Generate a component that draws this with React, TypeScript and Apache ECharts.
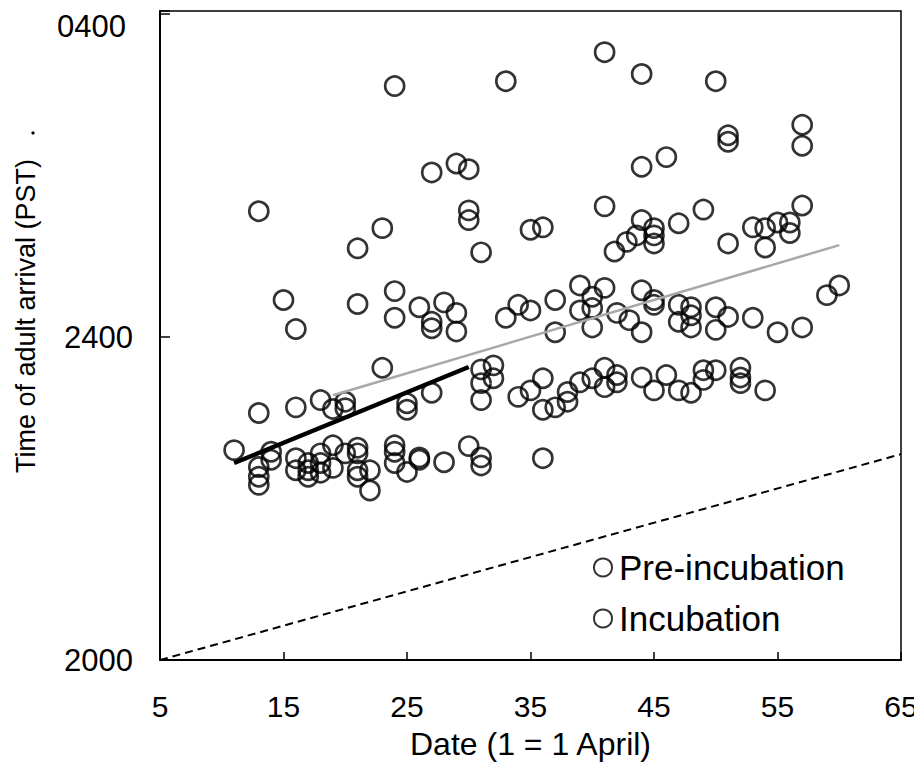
import React, { useEffect, useRef } from "react";
import * as echarts from "echarts";

const xTickStart = 5;
const xTickEnd = 65;
const xTickStep = 10;

const yTickValues = [20, 24, 28];
const yTickLabels = ["2000", "2400", "0400"];

const xAxisTitle = "Date (1 = 1 April)";
const yAxisTitle = "Time of adult arrival (PST)";
const seriesNames = ["Pre-incubation", "Incubation"];

// [date, time in hours after midnight of the previous day]
const preIncubation: [number, number][] = [
  [24, 27.11], [27, 26.04], [29, 26.15], [30, 26.08], [30, 25.57], [30, 25.45],
  [13, 25.56], [23, 25.35], [21, 25.1], [15, 24.46], [16, 24.1], [21, 24.41],
  [24, 24.57], [24, 24.24], [26, 24.37], [28, 24.43], [29, 24.3], [27, 24.19],
  [27, 24.11], [29, 24.07], [23, 23.62], [13, 23.06], [16, 23.13], [18, 23.22],
  [19, 23.11], [20, 23.2], [20, 23.12], [25, 23.18], [25, 23.1], [27, 23.31],
  [11, 22.6], [14, 22.58], [14, 22.48], [13, 22.39], [13, 22.27], [13, 22.17],
  [16, 22.5], [16, 22.35], [17, 22.44], [17, 22.35], [17, 22.27], [18, 22.56],
  [18, 22.44], [18, 22.32], [19, 22.66], [19, 22.38], [20, 22.56], [21, 22.63],
  [21, 22.56], [21, 22.35], [21, 22.27], [22, 22.35], [22, 22.1], [24, 22.66],
  [24, 22.58], [24, 22.44], [25, 22.33], [26, 22.51], [26, 22.48], [28, 22.45],
  [30, 22.65],
];

const incubation: [number, number][] = [
  [33, 27.17], [41, 27.53], [44, 27.26], [50, 27.17], [51, 26.5], [51, 26.42],
  [57, 26.63], [57, 26.37], [46, 26.23], [44, 26.11], [41, 25.62], [57, 25.63],
  [49, 25.58], [36, 25.36], [35, 25.33], [44, 25.45], [45, 25.35], [47, 25.41],
  [53, 25.36], [54, 25.35], [55, 25.42], [56, 25.42], [45, 25.26], [45, 25.16],
  [43.6, 25.26], [42.8, 25.18], [41.8, 25.06], [51, 25.16], [56, 25.29], [54, 25.11],
  [60, 24.64], [59, 24.52], [39, 24.64], [41, 24.61], [40, 24.5], [39, 24.33],
  [40, 24.36], [40, 24.12], [37, 24.46], [34, 24.4], [35, 24.33], [33, 24.24],
  [37, 24.06], [42, 24.3], [43, 24.21], [44, 24.06], [44, 24.58], [45, 24.46],
  [45, 24.4], [47, 24.4], [48, 24.37], [48, 24.27], [47, 24.19], [48, 24.12],
  [50, 24.37], [51, 24.25], [50, 24.09], [53, 24.24], [55, 24.06], [57, 24.12],
  [31, 25.05], [31, 23.6], [32, 23.65], [32, 23.49], [31, 23.43], [31, 23.22],
  [31, 22.51], [31, 22.41], [34, 23.26], [35, 23.34], [36, 23.49], [36, 23.1],
  [37, 23.13], [38, 23.32], [38, 23.2], [39, 23.44], [40, 23.49], [41, 23.62],
  [41, 23.38], [42, 23.53], [42, 23.44], [44, 23.5], [45, 23.34], [46, 23.53],
  [47, 23.34], [48, 23.31], [49, 23.47], [50, 23.59], [49, 23.59], [52, 23.62],
  [52, 23.5], [52, 23.43], [54, 23.34], [36, 22.5],
];

const preIncubationFit: [number, number][] = [[11, 22.44], [30, 23.63]];
const incubationFit: [number, number][] = [[19, 23.28], [60, 25.14]];
const referenceLine: [number, number][] = [[5, 20], [65, 22.55]];

const FONT = "'Liberation Sans', Arial, sans-serif";

export default function App() {
  const ref = useRef<HTMLDivElement>(null);

  useEffect(() => {
    if (!ref.current) return;
    const chart = echarts.init(ref.current, undefined, { renderer: "svg" });
    const symbolStyle = {
      color: "rgba(0,0,0,0)",
      borderColor: "#000",
      borderWidth: 2.7,
    };
    chart.setOption({
      animation: false,
      backgroundColor: "#fff",
      textStyle: { fontFamily: FONT, color: "#000" },
      grid: {
        left: 160,
        right: 21,
        top: 11,
        bottom: 117,
        outerBoundsMode: "none",
        containLabel: false,
        show: true,
        borderColor: "#000",
        borderWidth: 1.5,
        backgroundColor: "rgba(0,0,0,0)",
      },
      legend: {
        orient: "vertical",
        left: 588,
        top: 545,
        itemWidth: 18,
        itemHeight: 18,
        itemGap: 16,
        icon: "circle",
        data: seriesNames,
        itemStyle: { color: "rgba(0,0,0,0)", borderColor: "#000", borderWidth: 2 },
        textStyle: { fontSize: 35, fontFamily: FONT, color: "#000", padding: [0, 0, 0, 2] },
      },
      xAxis: {
        type: "value",
        min: xTickStart,
        max: xTickEnd,
        interval: xTickStep,
        name: xAxisTitle,
        nameLocation: "middle",
        nameGap: 68,
        nameTextStyle: { fontSize: 32, fontFamily: FONT, color: "#000" },
        axisLine: { lineStyle: { color: "#000", width: 2 } },
        axisTick: { inside: true, length: 8, lineStyle: { color: "#000", width: 1.5 } },
        axisLabel: { fontSize: 30, fontFamily: FONT, color: "#000", margin: 31 },
        splitLine: { show: false },
      },
      yAxis: {
        type: "value",
        min: 20,
        max: 28.04,
        interval: 4,
        axisLine: { lineStyle: { color: "#000", width: 2 } },
        axisTick: { inside: true, length: 10, lineStyle: { color: "#000", width: 1.5 } },
        axisLabel: {
          fontSize: 31,
          fontFamily: FONT,
          color: "#000",
          margin: 27,
          formatter: (v: number) => {
            const i = yTickValues.indexOf(v);
            if (i < 0) return "";
            return i === yTickValues.length - 1 ? "{top|" + yTickLabels[i] + "}" : yTickLabels[i];
          },
          rich: {
            top: { fontSize: 31, fontFamily: FONT, color: "#000", padding: [24, 7, 0, 0] },
          },
        },
        splitLine: { show: false },
      },
      series: [
        {
          type: "line",
          data: referenceLine,
          symbol: "none",
          silent: true,
          lineStyle: { color: "#000", width: 2, type: [8, 5] },
          z: 1,
        },
        {
          name: seriesNames[0],
          type: "scatter",
          data: preIncubation,
          symbol: "circle",
          symbolSize: 19,
          itemStyle: symbolStyle,
          z: 3,
        },
        {
          name: seriesNames[1],
          type: "scatter",
          data: incubation,
          symbol: "circle",
          symbolSize: 19,
          itemStyle: symbolStyle,
          z: 3,
        },
        {
          type: "line",
          data: preIncubationFit,
          symbol: "none",
          silent: true,
          lineStyle: { color: "#000", width: 4.5 },
          z: 4,
        },
        {
          type: "line",
          data: incubationFit,
          symbol: "none",
          silent: true,
          lineStyle: { color: "#a8a8a8", width: 2.5 },
          z: 4,
        },
      ],
      graphic: [
        {
          type: "text",
          x: 26,
          y: 316,
          rotation: Math.PI / 2,
          style: {
            text: yAxisTitle,
            fontSize: 27,
            fontFamily: FONT,
            fill: "#000",
            align: "center",
            verticalAlign: "middle",
          },
        },
        { type: "circle", shape: { cx: 33, cy: 133, r: 1.6 }, style: { fill: "#000" } },
        { type: "circle", shape: { cx: 130, cy: 5, r: 1 }, style: { fill: "#000" } },
      ],
    });
    return () => chart.dispose();
  }, []);

  return <div ref={ref} style={{ width: 922, height: 777, margin: -8 }} />;
}
